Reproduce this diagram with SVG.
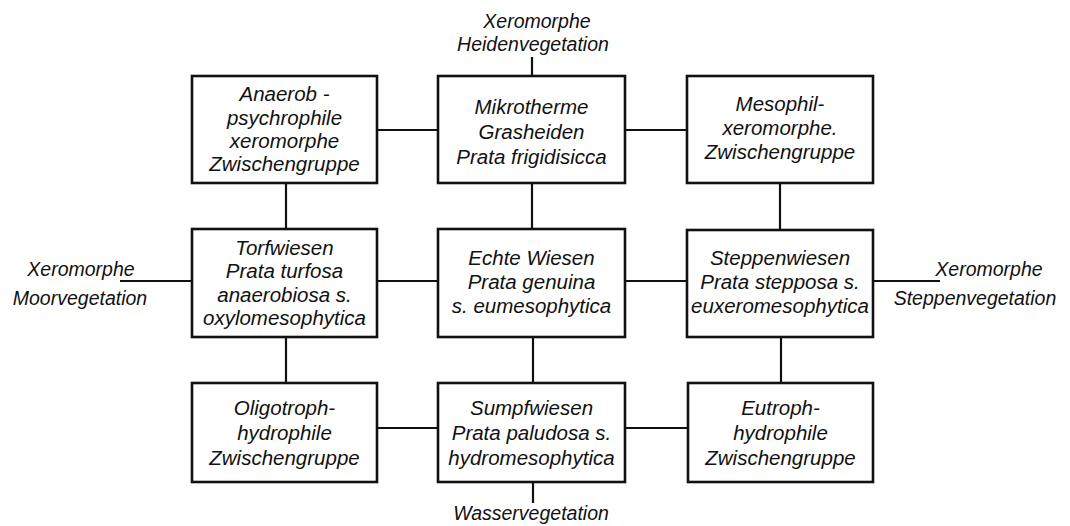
<svg xmlns="http://www.w3.org/2000/svg" width="1070" height="526" viewBox="0 0 1070 526">
<style>
  .box { fill: #fff; stroke: #111; stroke-width: 2.6; }
  .ln { stroke: #111; stroke-width: 2.2; fill: none; }
  text { font-family: "Liberation Sans", Arial, sans-serif; font-style: italic; font-size: 20.5px; fill: #111; text-anchor: middle; }
  .ext { font-size: 19.5px; }
</style>
<rect width="1070" height="526" fill="#fff"/>
<g id="connectors">
  <line class="ln" x1="377" y1="130" x2="438" y2="130"/>
  <line class="ln" x1="625" y1="130" x2="687" y2="130"/>
  <line class="ln" x1="377" y1="281" x2="438" y2="281"/>
  <line class="ln" x1="625" y1="281" x2="687" y2="281"/>
  <line class="ln" x1="377" y1="428" x2="438" y2="428"/>
  <line class="ln" x1="625" y1="428" x2="688" y2="428"/>
  <line class="ln" x1="286" y1="183" x2="286" y2="229"/>
  <line class="ln" x1="532" y1="183" x2="532" y2="229"/>
  <line class="ln" x1="780" y1="183" x2="780" y2="230"/>
  <line class="ln" x1="286" y1="337" x2="286" y2="383"/>
  <line class="ln" x1="533" y1="337" x2="533" y2="383"/>
  <line class="ln" x1="781" y1="337" x2="781" y2="383"/>
  <line class="ln" x1="532" y1="57" x2="532" y2="76"/>
  <line class="ln" x1="533" y1="482" x2="533" y2="503"/>
  <line class="ln" x1="120" y1="281" x2="192" y2="281"/>
  <line class="ln" x1="873" y1="281" x2="940" y2="281"/>
</g>
<g id="ext-top">
  <text class="ext" x="537" y="28">Xeromorphe</text>
  <text class="ext" x="533" y="51">Heidenvegetation</text>
</g>
<g id="ext-bottom">
  <text class="ext" x="531" y="520">Wasservegetation</text>
</g>
<g id="ext-left">
  <text class="ext" x="81" y="276">Xeromorphe</text>
  <text class="ext" x="80" y="305">Moorvegetation</text>
</g>
<g id="ext-right">
  <text class="ext" x="989" y="276">Xeromorphe</text>
  <text class="ext" x="975" y="305">Steppenvegetation</text>
</g>
<g id="anaerob">
  <rect class="box" x="192" y="76" width="185" height="107"/>
  <text x="284.5" y="101">Anaerob -</text>
  <text x="284.5" y="124.5">psychrophile</text>
  <text x="284.5" y="148">xeromorphe</text>
  <text x="284.5" y="171">Zwischengruppe</text>
</g>
<g id="mikrotherme">
  <rect class="box" x="438" y="76" width="187" height="107"/>
  <text x="531.5" y="114">Mikrotherme</text>
  <text x="531.5" y="139">Grasheiden</text>
  <text x="531.5" y="164">Prata frigidisicca</text>
</g>
<g id="mesophil">
  <rect class="box" x="687" y="76" width="186" height="107"/>
  <text x="780" y="111">Mesophil-</text>
  <text x="780" y="135">xeromorphe.</text>
  <text x="780" y="159">Zwischengruppe</text>
</g>
<g id="torfwiesen">
  <rect class="box" x="192" y="229" width="185" height="108"/>
  <text x="284.5" y="254.5">Torfwiesen</text>
  <text x="284.5" y="278">Prata turfosa</text>
  <text x="284.5" y="301.5">anaerobiosa s.</text>
  <text x="284.5" y="325">oxylomesophytica</text>
</g>
<g id="echte-wiesen">
  <rect class="box" x="438" y="229" width="187" height="108"/>
  <text x="531.5" y="265">Echte Wiesen</text>
  <text x="531.5" y="289">Prata genuina</text>
  <text x="531.5" y="313">s. eumesophytica</text>
</g>
<g id="steppenwiesen">
  <rect class="box" x="687" y="230" width="186" height="107"/>
  <text x="780" y="265">Steppenwiesen</text>
  <text x="780" y="289">Prata stepposa s.</text>
  <text x="780" y="313">euxeromesophytica</text>
</g>
<g id="oligotroph">
  <rect class="box" x="192" y="383" width="185" height="99"/>
  <text x="284.5" y="415">Oligotroph-</text>
  <text x="284.5" y="440">hydrophile</text>
  <text x="284.5" y="465">Zwischengruppe</text>
</g>
<g id="sumpfwiesen">
  <rect class="box" x="438" y="383" width="187" height="99"/>
  <text x="531.5" y="415">Sumpfwiesen</text>
  <text x="531.5" y="440">Prata paludosa s.</text>
  <text x="531.5" y="465">hydromesophytica</text>
</g>
<g id="eutroph">
  <rect class="box" x="688" y="383" width="185" height="99"/>
  <text x="780.5" y="415">Eutroph-</text>
  <text x="780.5" y="440">hydrophile</text>
  <text x="780.5" y="465">Zwischengruppe</text>
</g>
</svg>
